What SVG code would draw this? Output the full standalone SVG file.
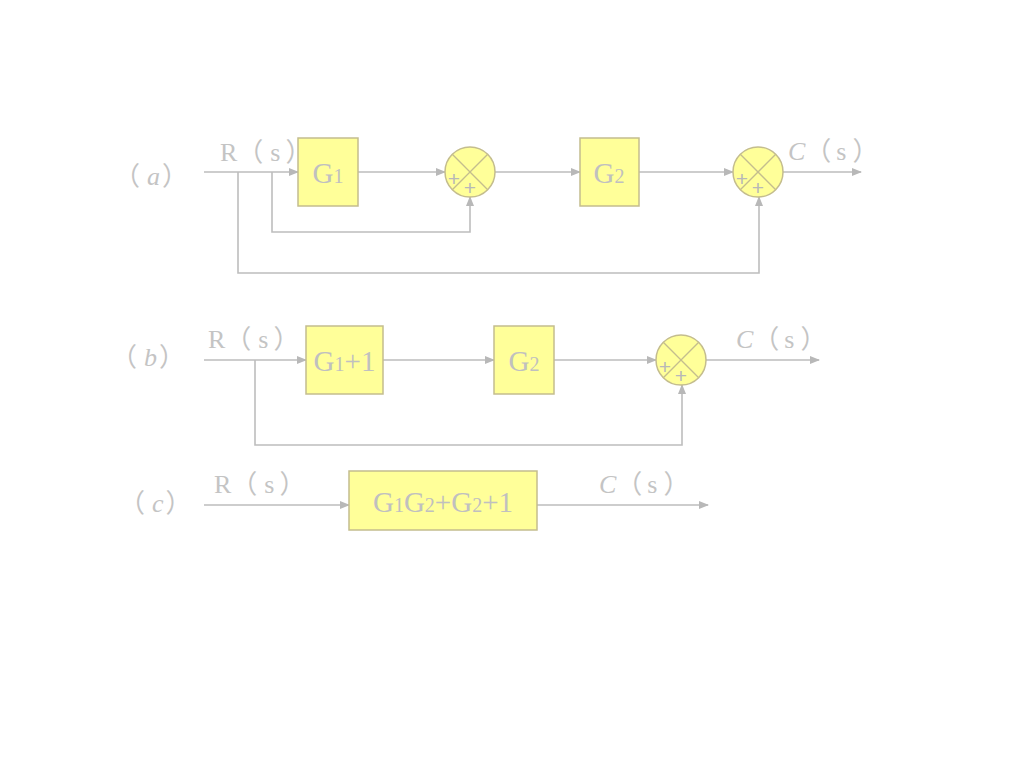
<svg xmlns="http://www.w3.org/2000/svg" width="1024" height="768" viewBox="0 0 1024 768">
<defs>
<marker id="ah" markerWidth="10" markerHeight="8" refX="9" refY="4" orient="auto" markerUnits="userSpaceOnUse">
<path d="M0,0 L10,4 L0,8 Z" fill="#b8b8b8"/>
</marker>
<style>
.ln{stroke:#bdbdbd;stroke-width:1.6;fill:none}
.ar{marker-end:url(#ah)}
.bx{fill:#ffff99;stroke:#c4bd8e;stroke-width:1.5}
.sm{fill:#ffff99;stroke:#c4bd8e;stroke-width:1.5}
.sx{stroke:#c4bd8e;stroke-width:1.3}
.t{font-family:"Liberation Serif","Noto Sans CJK SC",serif;fill:#c4c4c4;font-size:26px}
.g{font-family:"Liberation Serif",serif;fill:#c0c0c0;font-size:29px;text-anchor:middle}
.sub{font-size:20px}
.p{font-family:"Liberation Sans",sans-serif;fill:#b8b8b8;font-size:21px;text-anchor:middle}
</style>
</defs>
<rect width="1024" height="768" fill="#ffffff"/>

<g id="connectors">
<line class="ln ar" x1="204" y1="172" x2="298" y2="172"/>
<line class="ln ar" x1="358" y1="172" x2="445" y2="172"/>
<line class="ln ar" x1="495" y1="172" x2="580" y2="172"/>
<line class="ln ar" x1="639" y1="172" x2="733" y2="172"/>
<line class="ln ar" x1="783" y1="172" x2="861" y2="172"/>
<polyline class="ln ar" points="272,172 272,232 470,232 470,197"/>
<polyline class="ln ar" points="238,172 238,273 759,273 759,197"/>
<line class="ln ar" x1="204" y1="360" x2="306" y2="360"/>
<line class="ln ar" x1="383" y1="360" x2="494" y2="360"/>
<line class="ln ar" x1="554" y1="360" x2="656" y2="360"/>
<line class="ln ar" x1="706" y1="360" x2="819" y2="360"/>
<polyline class="ln ar" points="255,360 255,445 682,445 682,385"/>
<line class="ln ar" x1="204" y1="505" x2="349" y2="505"/>
<line class="ln ar" x1="537" y1="505" x2="708" y2="505"/>
</g>

<g id="labels">
<text class="t" x="114" y="185">（<tspan font-style="italic" dx="7">a</tspan><tspan dx="2">）</tspan></text>
<text class="t" x="220" y="161">R（<tspan dx="7">s</tspan><tspan dx="5">）</tspan></text>
<text class="t" x="788" y="160"><tspan font-style="italic">C</tspan>（<tspan dx="5">s</tspan><tspan dx="6">）</tspan></text>
<text class="t" x="111" y="366">（<tspan font-style="italic" dx="7">b</tspan><tspan dx="2">）</tspan></text>
<text class="t" x="208" y="348">R（<tspan dx="7">s</tspan><tspan dx="5">）</tspan></text>
<text class="t" x="736" y="348"><tspan font-style="italic">C</tspan>（<tspan dx="5">s</tspan><tspan dx="6">）</tspan></text>
<text class="t" x="119" y="512">（<tspan font-style="italic" dx="7">c</tspan><tspan dx="2">）</tspan></text>
<text class="t" x="214" y="493">R（<tspan dx="7">s</tspan><tspan dx="5">）</tspan></text>
<text class="t" x="599" y="493"><tspan font-style="italic">C</tspan>（<tspan dx="5">s</tspan><tspan dx="6">）</tspan></text>
</g>

<g id="G1a">
<rect class="bx" x="298" y="138" width="60" height="68"/>
<text class="g" x="328" y="183">G<tspan class="sub">1</tspan></text>
</g>
<g id="sum1a">
<circle class="sm" cx="470" cy="172" r="25"/>
<line class="sx" x1="452.3" y1="154.3" x2="487.7" y2="189.7"/>
<line class="sx" x1="487.7" y1="154.3" x2="452.3" y2="189.7"/>
<text class="p" x="454" y="186">+</text>
<text class="p" x="470" y="195">+</text>
</g>
<g id="G2a">
<rect class="bx" x="580" y="138" width="59" height="68"/>
<text class="g" x="609" y="183">G<tspan class="sub">2</tspan></text>
</g>
<g id="sum2a">
<circle class="sm" cx="758" cy="172" r="25"/>
<line class="sx" x1="740.3" y1="154.3" x2="775.7" y2="189.7"/>
<line class="sx" x1="775.7" y1="154.3" x2="740.3" y2="189.7"/>
<text class="p" x="742" y="186">+</text>
<text class="p" x="758" y="195">+</text>
</g>

<g id="G1p1b">
<rect class="bx" x="306" y="326" width="77" height="68"/>
<text class="g" x="344.5" y="371">G<tspan class="sub">1</tspan>+1</text>
</g>
<g id="G2b">
<rect class="bx" x="494" y="326" width="60" height="68"/>
<text class="g" x="524" y="371">G<tspan class="sub">2</tspan></text>
</g>
<g id="sumb">
<circle class="sm" cx="681" cy="360" r="25"/>
<line class="sx" x1="663.3" y1="342.3" x2="698.7" y2="377.7"/>
<line class="sx" x1="698.7" y1="342.3" x2="663.3" y2="377.7"/>
<text class="p" x="665" y="374">+</text>
<text class="p" x="681" y="383">+</text>
</g>

<g id="Gc">
<rect class="bx" x="349" y="471" width="188" height="59"/>
<text class="g" x="443" y="512">G<tspan class="sub">1</tspan>G<tspan class="sub">2</tspan>+G<tspan class="sub">2</tspan>+1</text>
</g>
</svg>
